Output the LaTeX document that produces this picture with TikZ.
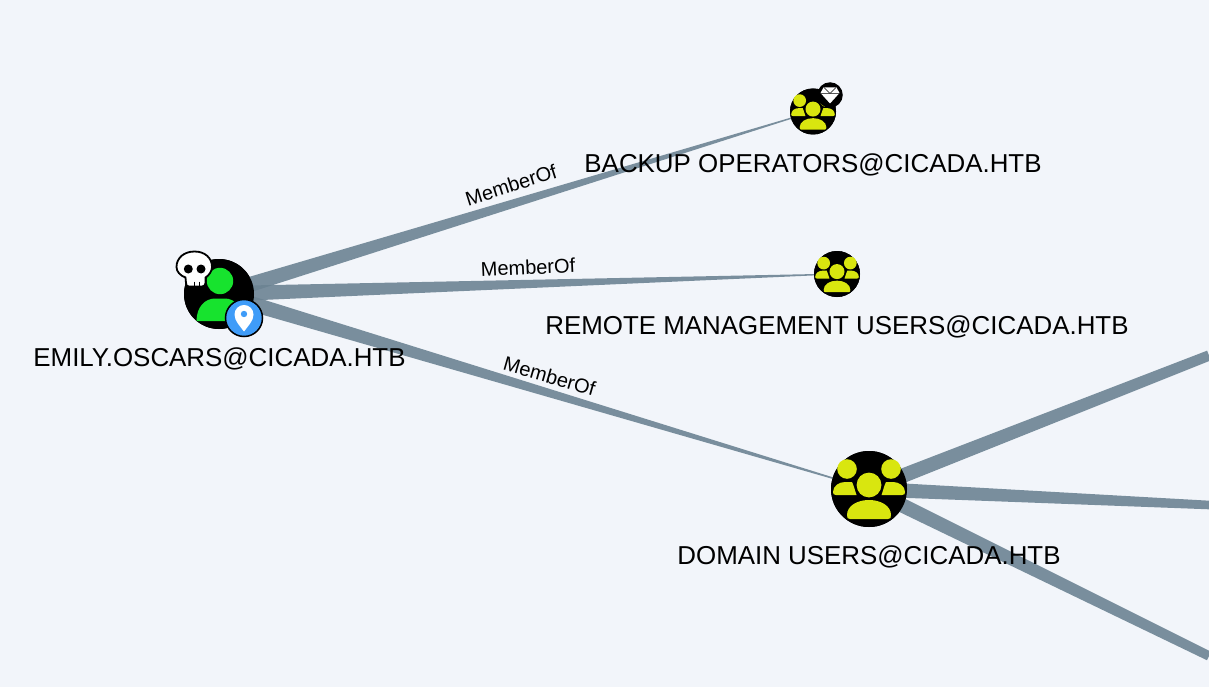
\documentclass[tikz,border=0pt]{standalone}
\usepackage{fontspec}
\setmainfont{Liberation Sans}
\usetikzlibrary{calc}
\definecolor{bgc}{HTML}{F2F5FA}
\definecolor{edgec}{HTML}{6C8393}
\definecolor{grn}{HTML}{17E32E}
\definecolor{ylw}{HTML}{D9E60F}
\definecolor{pinb}{HTML}{3F9CF8}
\tikzset{
  x=1pt,y=-1pt,
  nodedisc/.style={circle,fill=black,inner sep=0pt,minimum size=#1},
  badge/.style={circle,draw=black,line width=1.5pt,inner sep=0pt,minimum size=#1},
  lbl/.style={font=\fontsize{25.9}{28}\selectfont,text=black,inner sep=0pt},
  edgelbl/.style={font=\fontsize{20}{22}\selectfont,text=black,inner sep=0pt},
  taper/.style={fill=edgec,fill opacity=.9}
}
\newcommand{\taperedge}[4]{%
  \fill[taper] ($(#1.center)!#3!90:(#2)$) -- ($(#2)!#4!-90:(#1.center)$) -- ($(#2)!#4!90:(#1.center)$) -- ($(#1.center)!#3!-90:(#2)$) -- cycle;}
% position, scale, colour, side head y, side head radius, side body shift
\newcommand{\groupicon}[6]{%
  \begin{scope}[shift={(#1)},scale=#2]
    \fill[#3] (-22,#4) circle (#5) (22,#4) circle (#5);
    \begin{scope}[yshift=#6]
    \fill[#3] (-33,6) .. controls (-35.5,6) and (-36,5) .. (-36,3) .. controls (-36,-3) and (-30,-7) .. (-24,-7) -- (-17,-7) .. controls (-15,-3) and (-14,2) .. (-12.5,6) -- cycle;
    \fill[#3] (33,6) .. controls (35.5,6) and (36,5) .. (36,3) .. controls (36,-3) and (30,-7) .. (24,-7) -- (17,-7) .. controls (15,-3) and (14,2) .. (12.5,6) -- cycle;
    \end{scope}
    \fill[#3] (0,-4) circle (12.4);
    \fill[#3] (-19,30) .. controls (-21.5,30) and (-22,29) .. (-22,26) .. controls (-22,17) and (-12,11) .. (0,11) .. controls (12,11) and (22,17) .. (22,26) .. controls (22,29) and (21.5,30) .. (19,30) -- cycle;
  \end{scope}}
\begin{document}
\begin{tikzpicture}
\useasboundingbox (0,0) rectangle (1209,687);
\fill[bgc] (0,0) rectangle (1209,687);
\coordinate (pemily) at (219,294);
\coordinate (pbackup) at (813,111.5);
\coordinate (premote) at (837,274);
\coordinate (pdomain) at (869,489);
\coordinate (off1) at (1209,355.5);
\coordinate (off2) at (1209,505);
\coordinate (off3) at (1209,656);
\path node[nodedisc=70pt] (emily) at (pemily) {}
      node[nodedisc=46pt] (backup) at (pbackup) {}
      node[nodedisc=46pt] (remote) at (premote) {}
      node[nodedisc=76pt] (domain) at (pdomain) {};
% connectors
\taperedge{emily}{backup}{7.9pt}{.4pt}
\taperedge{emily}{remote}{7.9pt}{.4pt}
\taperedge{emily}{domain}{7.9pt}{.4pt}
\taperedge{domain}{off1}{7.5pt}{5.2pt}
\taperedge{domain}{off2}{7.5pt}{4.3pt}
\taperedge{domain}{off3}{7.5pt}{4.7pt}
% discs above the connectors
\node[nodedisc=70pt] at (pemily) {};
\node[nodedisc=46pt] at (pbackup) {};
\node[nodedisc=46pt] at (premote) {};
\node[nodedisc=76pt] at (pdomain) {};
% emily icon
\fill[grn] (220,281) circle (13.2);
\fill[grn] (196.5,321) .. controls (196.5,307) and (205,298.5) .. (215,298.5) -- (225,298.5) .. controls (235,298.5) and (243,308) .. (243,321) -- cycle;
% skull
\filldraw[fill=white,draw=black,line width=1.8pt] (185.5,277.5) .. controls (180,275.5) and (176.5,271.5) .. (176.5,267) .. controls (176.5,258) and (184,251.5) .. (194.5,251.5) .. controls (205,251.5) and (212,258) .. (212,267) .. controls (212,271) and (209,275.5) .. (205.5,277.5) -- (205.5,283) .. controls (205.5,285.5) and (204,286.5) .. (202,286.5) -- (189,286.5) .. controls (187,286.5) and (186,285.5) .. (186,283) -- cycle;
\fill[black] (188.3,269) circle (4.5) (201,269) circle (4.5);
\draw[black,line width=1.1pt] (194.3,281.5) -- (194.3,286) (199.5,281.5) -- (199.5,286);
% pin badge
\node[badge=37pt,fill=pinb] (pin) at (244,318) {};
\fill[white] (244,331.5) .. controls (240,326) and (234.5,321) .. (234.5,314.5) .. controls (234.5,309) and (239,305) .. (244,305) .. controls (249,305) and (253.5,309) .. (253.5,314.5) .. controls (253.5,321) and (248,326) .. (244,331.5) -- cycle;
\fill[pinb] (244,314) circle (3.2);
% group icons
\groupicon{pbackup}{.605}{ylw}{-18}{10.5}{-1.5pt}
\groupicon{premote}{.605}{ylw}{-18}{10.5}{-1.5pt}
\groupicon{pdomain}{1}{ylw}{-20}{9.8}{0pt}
% diamond badge
\node[circle,fill=black,inner sep=0pt,minimum size=25.5pt] (gem) at (830,95) {};
\fill[white] (823.5,87.5) -- (836.5,87.5) -- (839.5,93) -- (830,103.5) -- (820.5,93) -- cycle;
\draw[black,line width=.5pt] (820.5,93.5) -- (839.5,93.5) (824,87.5) -- (830,93.5) -- (836,87.5);
% texts
\node[lbl] (t1) at (219.5,358.5) {EMILY.OSCARS@CICADA.HTB};
\node[lbl] (t2) at (813,164.5) {BACKUP OPERATORS@CICADA.HTB};
\node[lbl] (t3) at (837,326.5) {REMOTE MANAGEMENT USERS@CICADA.HTB};
\node[lbl] (t4) at (869,556.5) {DOMAIN USERS@CICADA.HTB};
\node[edgelbl,rotate=17.5] (e1) at (511,185) {MemberOf};
\node[edgelbl,rotate=2.5] (e2) at (528,267.5) {MemberOf};
\node[edgelbl,rotate=-16] (e3) at (549.5,376) {MemberOf};
\end{tikzpicture}
\end{document}
